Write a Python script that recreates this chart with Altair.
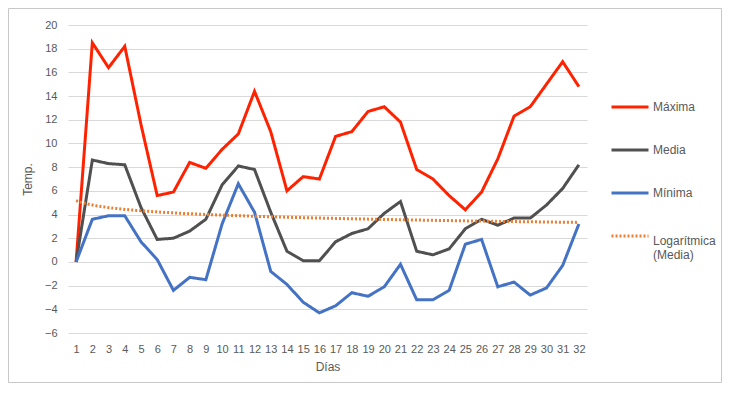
import altair as alt
import pandas as pd

dias = list(range(1, 33))
maxima = [0, 18.5, 16.4, 18.2, 11.6, 5.6, 5.9, 8.4, 7.9, 9.5, 10.8, 14.4, 11.0, 6.0, 7.2, 7.0,
          10.6, 11.0, 12.7, 13.1, 11.8, 7.8, 7.0, 5.6, 4.4, 5.9, 8.7, 12.3, 13.1, 15.0, 16.9, 14.8]
media = [0, 8.6, 8.3, 8.2, 4.6, 1.9, 2.0, 2.6, 3.6, 6.5, 8.1, 7.8, 4.2, 0.9, 0.1, 0.1,
         1.7, 2.4, 2.8, 4.1, 5.1, 0.9, 0.6, 1.1, 2.8, 3.6, 3.1, 3.7, 3.7, 4.8, 6.2, 8.2]
minima = [0, 3.6, 3.9, 3.9, 1.7, 0.2, -2.4, -1.3, -1.5, 3.2, 6.6, 4.2, -0.8, -1.9, -3.4, -4.3,
          -3.7, -2.6, -2.9, -2.1, -0.2, -3.2, -3.2, -2.4, 1.5, 1.9, -2.1, -1.7, -2.8, -2.2, -0.3, 3.2]
series = ["Máxima", "Media", "Mínima", "Logarítmica (Media)"]
colors = ["#FF2200", "#505050", "#4472C4", "#ED7D31"]
y_ticks = list(range(-6, 21, 2))

rows = []
for name, vals in zip(series[:3], [maxima, media, minima]):
    for d, v in zip(dias, vals):
        rows.append({"dia": d, "temp": v, "serie": name})
df = pd.DataFrame(rows)

W, H = 519, 308
PL, PT, PR, PB = 60, 17, 135, 50
FONT = "Liberation Sans"
GRAY = "#595959"

legend = alt.Legend(
    title=None, orient="none", legendX=542, legendY=62,
    symbolType="stroke", symbolSize=1369, rowPadding=17,
    labelOffset=3, labelFontSize=12, labelColor=GRAY, labelFont=FONT,
    labelExpr="datum.label == 'Logarítmica (Media)' ? ['Logarítmica', '(Media)'] : datum.label",
    labelBaseline=alt.ExprRef("datum.value === 'Logarítmica (Media)' ? 'top' : 'middle'"),
)

x_enc = alt.X("dia:Q", title="Días",
              scale=alt.Scale(domain=[0.5, 32.5], nice=False, zero=False),
              axis=alt.Axis(values=dias, grid=False, domain=False, ticks=False,
                            labelPadding=10, titlePadding=7, labelFlush=False))
y_enc = alt.Y("temp:Q", title="Temp.",
              scale=alt.Scale(domain=[-6, 20], nice=False),
              axis=alt.Axis(values=y_ticks, grid=True, domain=False, ticks=False,
                            labelPadding=11, titlePadding=10, gridColor="#d9d9d9"))
color_enc = alt.Color("serie:N", scale=alt.Scale(domain=series, range=colors), legend=legend)
dash_enc = alt.StrokeDash("serie:N", scale=alt.Scale(domain=series, range=[[1, 0], [1, 0], [1, 0], [2, 2]]),
                          legend=legend)
width_enc = alt.StrokeWidth("serie:N", scale=alt.Scale(domain=series, range=[3, 3, 3, 1.5]),
                            legend=legend)

lines = alt.Chart(df).mark_line().encode(
    x=x_enc, y=y_enc, color=color_enc, strokeDash=dash_enc, strokeWidth=width_enc,
    order=alt.Order("dia:Q"))

trend = alt.Chart(df).transform_filter(
    alt.datum.serie == "Media"
).transform_regression(
    "dia", "temp", method="log", extent=[1, 32]
).transform_calculate(
    serie="'Logarítmica (Media)'"
).mark_line().encode(
    x=x_enc, y=y_enc, color=color_enc, strokeDash=dash_enc, strokeWidth=width_enc)

border = alt.Chart(pd.DataFrame({"a": [0]})).mark_rect(
    fill=None, stroke="#c8c8c8", strokeWidth=1
).encode(
    x=alt.value(-PL + 0.5), x2=alt.value(W + PR - 0.5),
    y=alt.value(-PT + 0.5), y2=alt.value(H + PB - 0.5))

chart = alt.layer(border, lines, trend).properties(
    width=W, height=H,
    autosize=alt.AutoSizeParams(type="none"),
    padding={"left": PL, "top": PT, "right": PR, "bottom": PB},
).configure_view(stroke=None).configure_axis(
    labelFont=FONT, labelFontSize=11, labelColor=GRAY,
    titleFont=FONT, titleFontSize=12, titleColor=GRAY, titleFontWeight="normal",
).configure_legend(padding=0)

chart.save("out.html", embed_options={"renderer": "svg", "actions": False})
